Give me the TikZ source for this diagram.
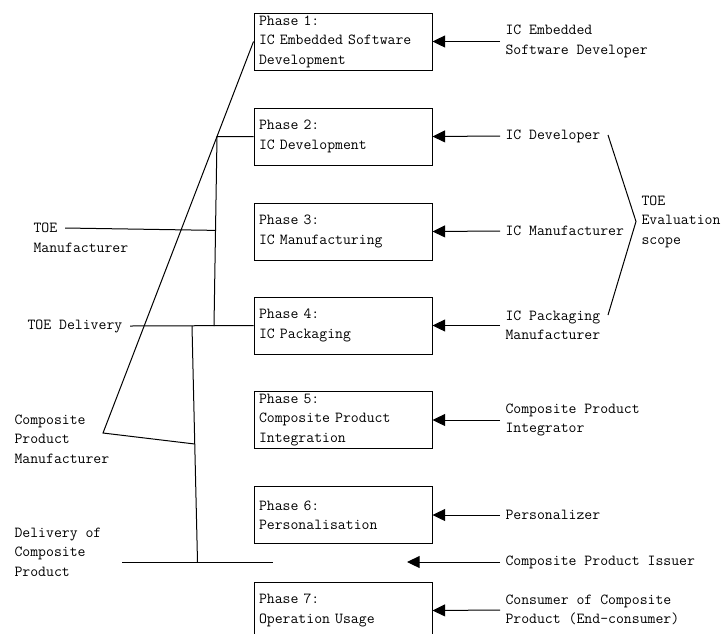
\documentclass[tikz,border=0pt]{standalone}
\usetikzlibrary{arrows.meta,calc}
\tikzset{
	phase/.style={draw,line width=0.7pt,text width=126pt,minimum height=42.75pt,inner xsep=3.75pt,inner ysep=0pt,align=left},
	actor/.style={anchor=west,inner xsep=3.75pt,inner ysep=0pt,align=left},
	role/.style={anchor=west,inner xsep=5.5pt,inner ysep=0pt,align=left},
	feed/.style={-{Triangle[length=9.5pt,width=9pt]}},
}
\begin{document}
\begin{tikzpicture}[x=0.75pt,y=-0.75pt,line width=0.75pt,font=\fontsize{11.5}{14.6}\selectfont\ttfamily]
		\clip (0,0) rectangle (724,633);
		\node[phase] (ph1) at (343,41.5) {Phase 1:\\IC Embedded Software\\Development};
		\node[phase] (ph2) at (343,136.5) {Phase 2:\\IC Development};
		\node[phase] (ph3) at (343,231.5) {Phase 3:\\IC Manufacturing};
		\node[phase] (ph4) at (343,325.5) {Phase 4:\\IC Packaging};
		\node[phase] (ph5) at (343,420) {Phase 5:\\Composite Product\\Integration};
		\node[phase] (ph6) at (343,515) {Phase 6:\\Personalisation};
		\node[phase] (ph7) at (343,610.5) {Phase 7:\\Operation Usage};
		\node[actor] (esd) at (500,41.5) {IC Embedded\\Software Developer};
		\node[actor] (icd) at (500,136) {IC Developer};
		\node[actor] (icm) at (500,231) {IC Manufacturer};
		\node[actor] (icp) at (500,325.5) {IC Packaging\\Manufacturer};
		\node[actor] (cpi) at (500,420) {Composite Product\\Integrator};
		\node[actor] (per) at (500,515) {Personalizer};
		\node[actor] (iss) at (500,562) {Composite Product Issuer};
		\node[actor] (con) at (500,610) {Consumer of Composite\\Product (End-consumer)};
		\node[actor] (scope) at (636,221.5) {TOE\\Evaluation\\scope};
		\draw[feed] (esd.west) -- (ph1.east);
		\draw[feed] (icd.west) -- (ph2.east);
		\draw[feed] (icm.west) -- (ph3.east);
		\draw[feed] (icp.west) -- (ph4.east);
		\draw[feed] (cpi.west) -- (ph5.east);
		\draw[feed] (per.west) -- (ph6.east);
		\coordinate (isse) at (407,562);
		\draw[feed] (iss.west) -- (isse);
		\draw[feed] (con.west) -- (ph7.east);
		\coordinate (bt) at (608,135);
		\coordinate (bb) at (608,315);
		\draw (bt) -- (scope.west) -- (bb);
		\node[role] (toe) at (25.7,228) {TOE};
		\node[role] (man) at (25.7,247.5) {Manufacturer};
		\node[role] (tdel) at (19.7,326) {TOE Delivery};
		\node[role] (cpm) at (6.7,439) {Composite\\Product\\Manufacturer};
		\node[role] (dcp) at (6.7,552) {Delivery of\\Composite\\Product};
		\coordinate (va) at (217,136.5);
		\coordinate (vb) at (214,326);
		\draw (ph2.west) -- (va) -- (vb);
		\draw (toe.east) -- ($(va)!(toe.east)!(vb)$);
		\draw (tdel.east) -- (ph4.west);
		\coordinate (wa) at (192,326);
		\coordinate (wb) at (197.5,562);
		\draw (wa) -- (wb);
		\coordinate (cpv) at (103,433);
		\draw (ph1.west) -- (cpv) -- ($(wa)!0.5!(wb)$);
		\coordinate (dl) at (122,562);
		\coordinate (dr) at (273,562);
		\draw (dl) -- (dr);
\end{tikzpicture}
\end{document}
